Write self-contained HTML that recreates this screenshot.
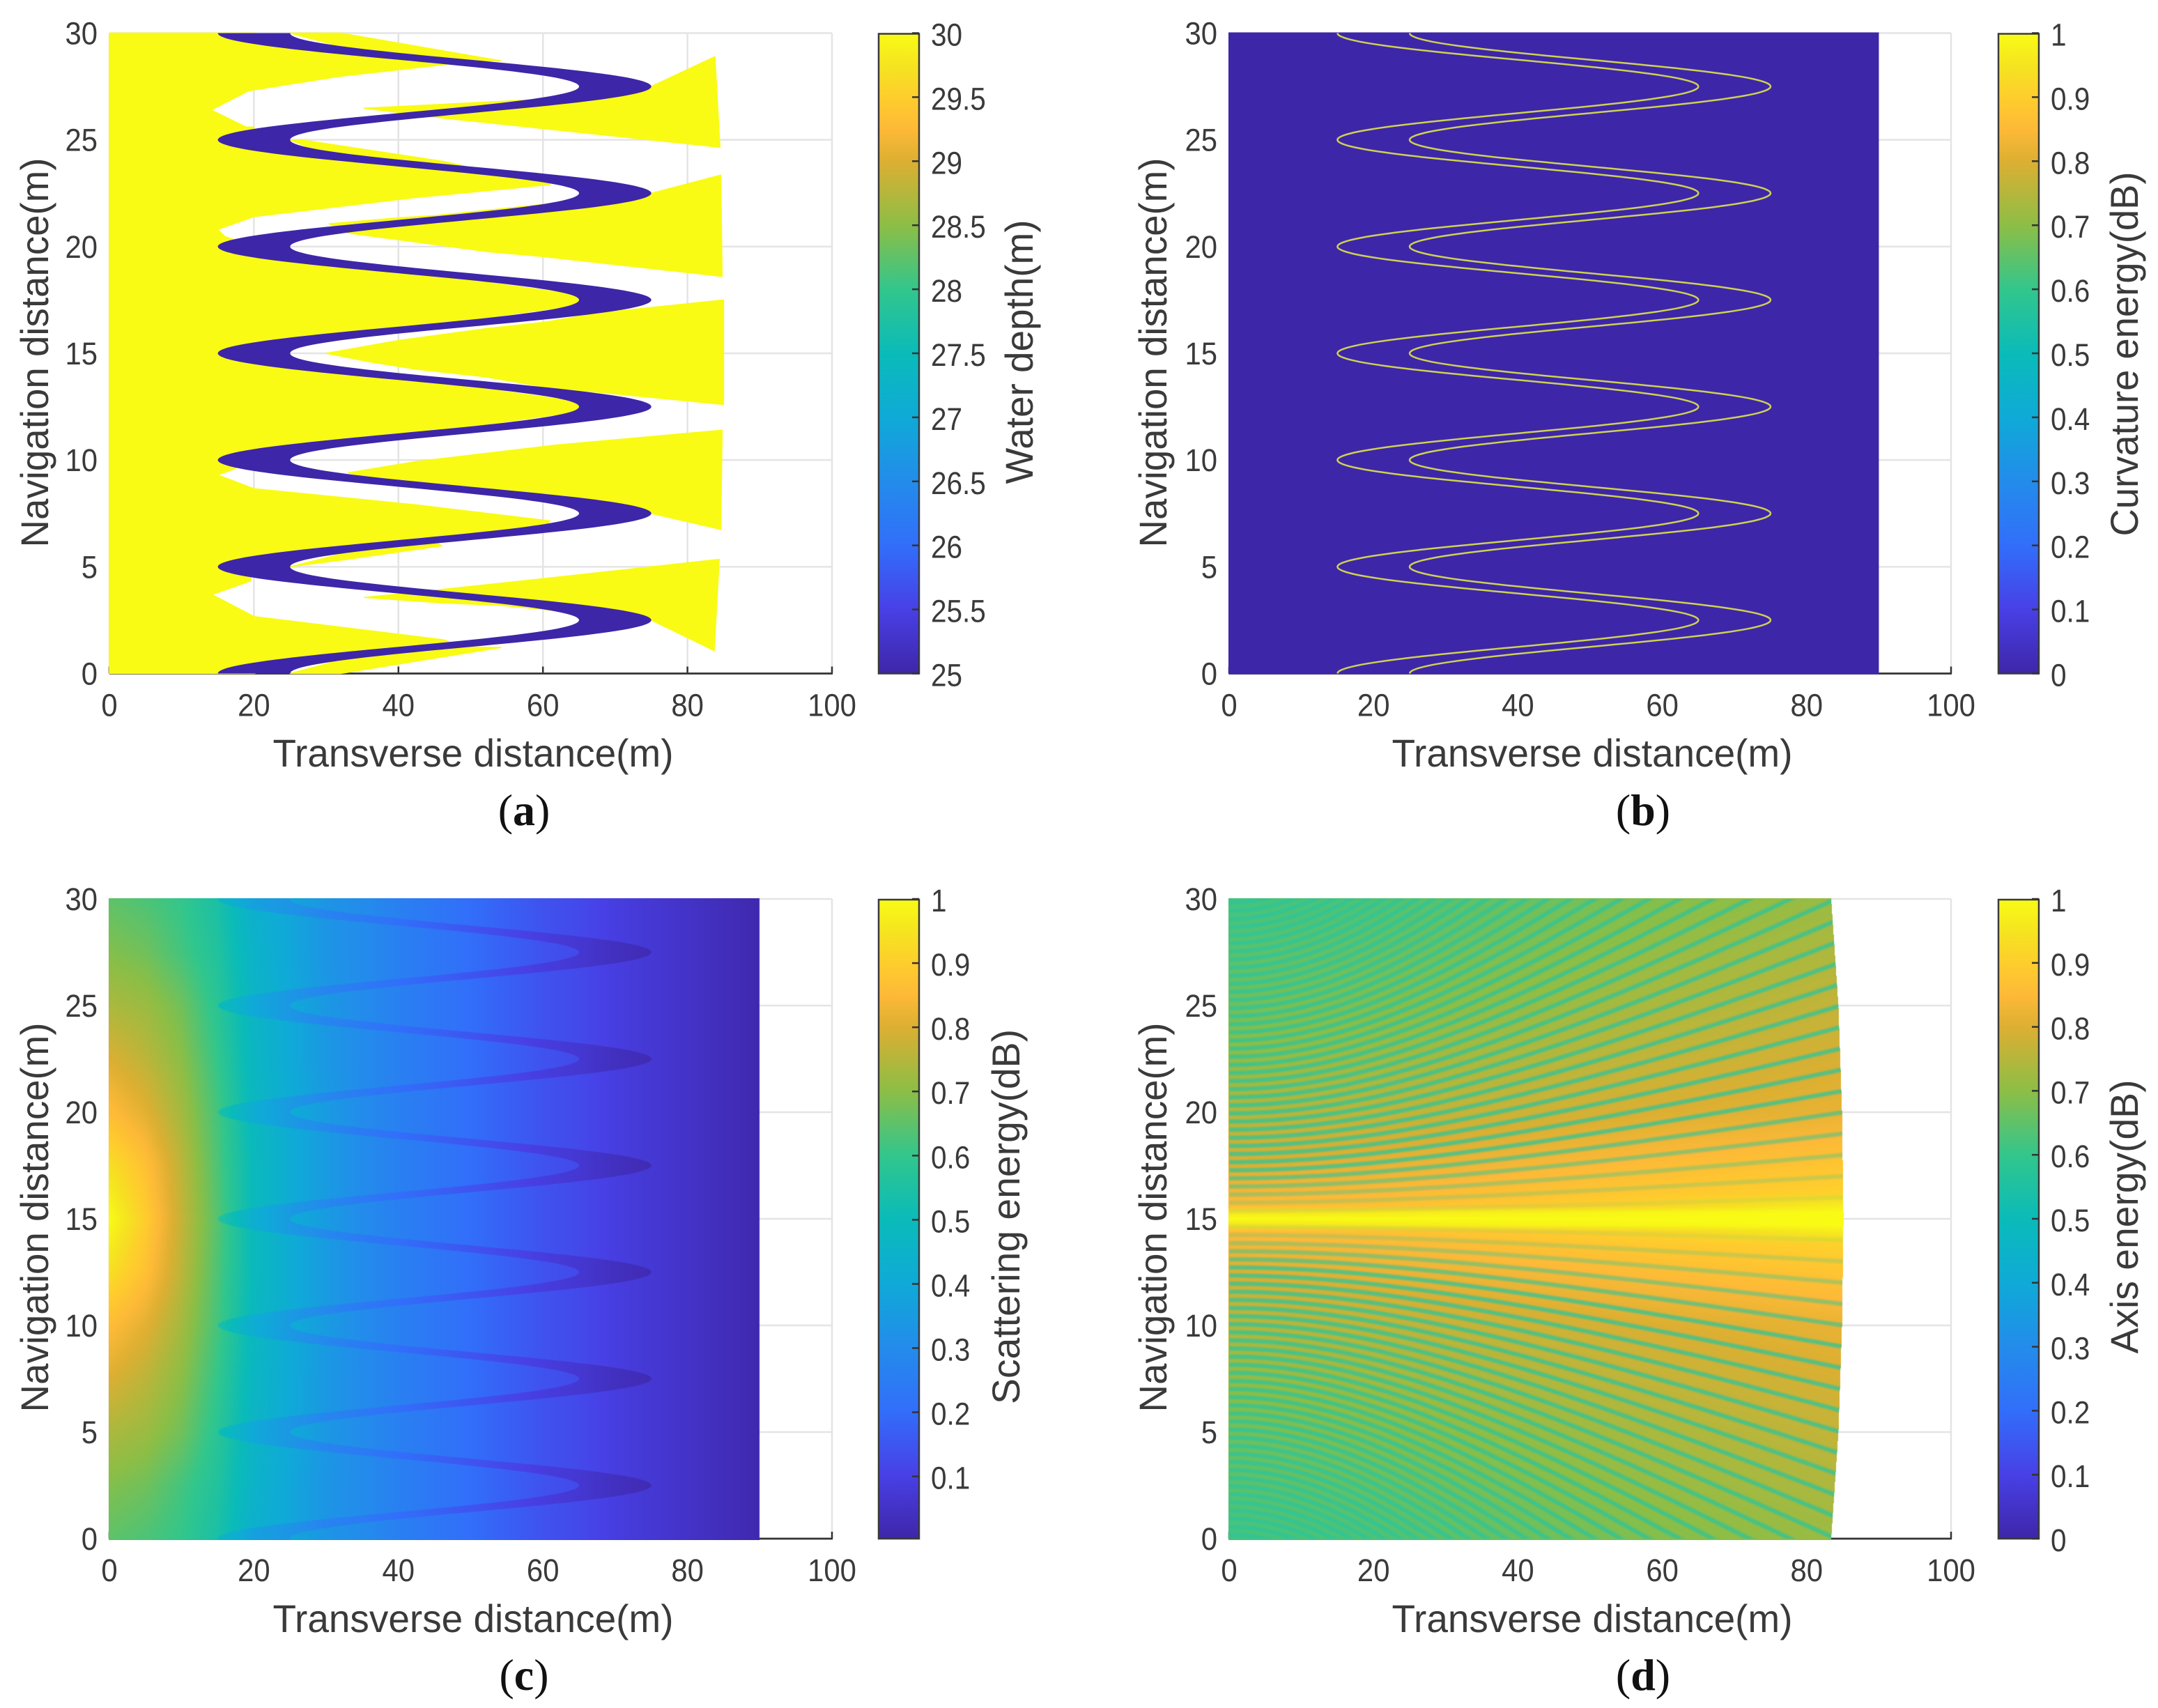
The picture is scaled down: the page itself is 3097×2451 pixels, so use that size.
<!DOCTYPE html>
<html lang="en">
<head>
<meta charset="utf-8">
<title>Water depth and energy maps</title>
<style>
html,body{margin:0;padding:0;background:#fff;}
#page{position:relative;width:3097px;height:2451px;overflow:hidden;background:#fff;}
#page svg,#page canvas{position:absolute;left:0;top:0;}
text{font-family:"Liberation Sans",sans-serif;fill:#3a3a3a;}
.sub{font-family:"Liberation Serif",serif;font-size:64px;fill:#111;text-anchor:middle;}
.sub tspan{font-weight:bold;font-family:"Liberation Serif",serif;}
.title{font-size:56px;text-anchor:middle;}
</style>
</head>
<body>
<div id="page">
<svg id="under" width="3097" height="2451"></svg>
<canvas id="field-c"></canvas>
<canvas id="field-d"></canvas>
<svg id="over" width="3097" height="2451">
  <defs id="defs"></defs>
  <g id="marks"></g>
  <g id="ticks"></g>

  <text class="title" x="0" y="0" transform="translate(679,1100)" textLength="575" lengthAdjust="spacingAndGlyphs">Transverse distance(m)</text>
  <text class="title" x="0" y="0" transform="translate(2285,1100)" textLength="575" lengthAdjust="spacingAndGlyphs">Transverse distance(m)</text>
  <text class="title" x="0" y="0" transform="translate(679,2342)" textLength="575" lengthAdjust="spacingAndGlyphs">Transverse distance(m)</text>
  <text class="title" x="0" y="0" transform="translate(2285,2342)" textLength="575" lengthAdjust="spacingAndGlyphs">Transverse distance(m)</text>

  <text class="title" x="0" y="0" transform="translate(69,506) rotate(-90)" textLength="559" lengthAdjust="spacingAndGlyphs">Navigation distance(m)</text>
  <text class="title" x="0" y="0" transform="translate(1674,506) rotate(-90)" textLength="559" lengthAdjust="spacingAndGlyphs">Navigation distance(m)</text>
  <text class="title" x="0" y="0" transform="translate(69,1747) rotate(-90)" textLength="559" lengthAdjust="spacingAndGlyphs">Navigation distance(m)</text>
  <text class="title" x="0" y="0" transform="translate(1674,1747) rotate(-90)" textLength="559" lengthAdjust="spacingAndGlyphs">Navigation distance(m)</text>

  <text class="title" x="0" y="0" transform="translate(1482,505) rotate(-90)" textLength="379" lengthAdjust="spacingAndGlyphs">Water depth(m)</text>
  <text class="title" x="0" y="0" transform="translate(3068,508) rotate(-90)" textLength="523" lengthAdjust="spacingAndGlyphs">Curvature energy(dB)</text>
  <text class="title" x="0" y="0" transform="translate(1463,1746) rotate(-90)" textLength="538" lengthAdjust="spacingAndGlyphs">Scattering energy(dB)</text>
  <text class="title" x="0" y="0" transform="translate(3068,1746) rotate(-90)" textLength="393" lengthAdjust="spacingAndGlyphs">Axis energy(dB)</text>

  <text class="sub" x="752" y="1184">(<tspan>a</tspan>)</text>
  <text class="sub" x="2358" y="1184">(<tspan>b</tspan>)</text>
  <text class="sub" x="752" y="2425">(<tspan>c</tspan>)</text>
  <text class="sub" x="2358" y="2425">(<tspan>d</tspan>)</text>
</svg>
</div>

<script>
/* ---------- axis tick values ---------- */
const xTickValues = [0, 20, 40, 60, 80, 100];
const yTickValues = [0, 5, 10, 15, 20, 25, 30];
const depthBarTicks = [25, 25.5, 26, 26.5, 27, 27.5, 28, 28.5, 29, 29.5, 30];
const curvatureBarTicks = [0, 0.1, 0.2, 0.3, 0.4, 0.5, 0.6, 0.7, 0.8, 0.9, 1];
const scatterBarTicks = [0.1, 0.2, 0.3, 0.4, 0.5, 0.6, 0.7, 0.8, 0.9, 1];
const axisBarTicks = [0, 0.1, 0.2, 0.3, 0.4, 0.5, 0.6, 0.7, 0.8, 0.9, 1];

/* ---------- colour map ---------- */
const parulaValues = [0, 0.1, 0.2, 0.3, 0.4, 0.5, 0.6, 0.7, 0.8, 0.85, 0.9, 0.95, 1];
const parulaReds   = [62, 72, 50, 35, 15, 10, 50, 140, 220, 253, 254, 245, 249];
const parulaGreens = [38, 64, 110, 140, 170, 187, 198, 190, 175, 185, 205, 228, 251];
const parulaBlues  = [168, 230, 250, 235, 215, 185, 140, 70, 50, 55, 45, 32, 21];

/* ---------- channel centre-line turning points (m) ---------- */
const channelY = [0, 2.5, 5, 7.5, 10, 12.5, 15, 17.5, 20, 22.5, 25, 27.5, 30];
const channelLeftX  = [15, 65, 15, 65, 15, 65, 15, 65, 15, 65, 15, 65, 15];
const channelRightX = [25, 75, 25, 75, 25, 75, 25, 75, 25, 75, 25, 75, 25];

/* ---------- panel (a): shoal outlines, [transverse, navigation] in metres ---------- */
const shoalLeftMass = [[0,30],[20,30],[33,29.15],[48,28.6],[46.6,28.53],[31.8,27.97],[19.3,27.3],[14.1,26.4],[18.9,25.6],[20,25.6],[20,25],[30,24.3],[45,23.75],[60,23.2],[61,22.9],[42.5,22.3],[20,21.4],[15,20.8],[16,20.47],[20,20],[40,18.9],[70,17.5],[40,16.1],[20,15],[40,13.9],[70,12.5],[40,11.1],[20,10],[17,9.55],[15,9.3],[20,8.66],[42.5,7.9],[61,7.15],[60,6.8],[40,6.1],[20,5],[19.5,4.33],[14.2,3.7],[20,2.67],[46.3,1.58],[48,1.35],[33,0.85],[20,0],[0,0]];
const shoalTopWedge = [[25,30],[32,30],[54.2,28.7],[45,28.75],[35,29.1]];
const shoalBottomWedge = [[25,0],[32,0],[54.2,1.22],[45,1.25],[35,0.9]];
const shoalSliver25 = [[25,25],[26.6,25],[46.6,23.97],[50,23.7],[45,23.75],[30,24.3]];
const shoalSliver5 = [[25,5],[33,5.35],[46,5.98],[45,6.2],[35,5.85]];
const shoalRight1 = [[35.2,26.48],[54,26.8],[60,26.9],[75,27.5],[83.8,28.9],[84.5,24.65],[52.4,25.8],[46.6,26]];
const shoalRight2 = [[30.4,21.07],[40,21.35],[45,21.45],[75,22.5],[84.6,23.35],[84.8,18.6],[60,19.53],[52.4,19.76],[33,20.63]];
const shoalRight3 = [[30,15],[40,15.6],[52,16.15],[60,16.45],[68,16.9],[85,17.5],[85,12.6],[60,13.43],[52,13.9],[42.5,14.25],[36,14.6]];
const shoalRight4 = [[33,9.4],[42.5,9.93],[61.7,10.7],[84.8,11.4],[84.6,6.75],[75,7.5],[55,8.4],[40,8.9]];
const shoalRight5 = [[35.3,3.56],[46.3,3.3],[54,3.2],[75,2.5],[83.7,1.07],[84.4,5.35],[56.9,4.33],[46.3,3.95]];

/* ---------- panel (c): scattering energy grid ---------- */
const scatterX = [0,5,10,15,20,25,30,35,40,45,50,55,60,65,70,75,80,85,90];
const scatterY = [0,2.5,5,7.5,10,12.5,15,17.5,20,22.5,25,27.5,30];
const scatterRow0  = [.65,.63,.60,.54,.43,.39,.33,.30,.26,.23,.20,.17,.14,.12,.09,.07,.05,.03,.01];
const scatterRow1  = [.69,.67,.62,.56,.45,.39,.33,.30,.26,.23,.20,.17,.14,.12,.09,.07,.05,.03,.01];
const scatterRow2  = [.74,.72,.67,.58,.46,.40,.34,.30,.26,.23,.20,.17,.14,.12,.09,.07,.05,.03,.01];
const scatterRow3  = [.80,.76,.70,.60,.47,.40,.34,.30,.26,.23,.20,.17,.14,.12,.09,.07,.05,.03,.01];
const scatterRow4  = [.86,.81,.73,.62,.48,.41,.35,.30,.26,.23,.20,.17,.14,.12,.09,.07,.05,.03,.01];
const scatterRow5  = [.94,.87,.76,.63,.49,.41,.35,.30,.26,.23,.20,.17,.14,.12,.09,.07,.05,.03,.01];
const scatterRow6  = [1.0,.90,.77,.64,.49,.41,.35,.30,.26,.23,.20,.17,.14,.12,.09,.07,.05,.03,.01];
const scatterRow7  = [.94,.87,.76,.63,.49,.41,.35,.30,.26,.23,.20,.17,.14,.12,.09,.07,.05,.03,.01];
const scatterRow8  = [.86,.81,.73,.62,.48,.41,.35,.30,.26,.23,.20,.17,.14,.12,.09,.07,.05,.03,.01];
const scatterRow9  = [.80,.76,.70,.60,.47,.40,.34,.30,.26,.23,.20,.17,.14,.12,.09,.07,.05,.03,.01];
const scatterRow10 = [.74,.72,.67,.58,.46,.40,.34,.30,.26,.23,.20,.17,.14,.12,.09,.07,.05,.03,.01];
const scatterRow11 = [.69,.67,.62,.56,.45,.39,.33,.30,.26,.23,.20,.17,.14,.12,.09,.07,.05,.03,.01];
const scatterRow12 = [.65,.63,.60,.54,.43,.39,.33,.30,.26,.23,.20,.17,.14,.12,.09,.07,.05,.03,.01];

/* ---------- panel (d): axis energy envelope grid and interference fringes ---------- */
const axisX = [0, 20, 40, 60, 85];
const axisY = [0, 5, 10, 12.5, 13.8, 14.4, 14.7, 15, 15.3, 15.6, 16.2, 17.5, 20, 25, 30];
const axisRow0  = [.62,.63,.66,.69,.72];
const axisRow1  = [.67,.69,.71,.74,.77];
const axisRow2  = [.75,.76,.78,.80,.82];
const axisRow3  = [.80,.82,.84,.86,.88];
const axisRow4  = [.84,.85,.87,.89,.91];
const axisRow5  = [.86,.87,.89,.92,.97];
const axisRow6  = [.95,.96,.98,.99,1.0];
const axisRow7  = [1.0,1.0,1.0,1.0,1.0];
const axisRow8  = [.95,.96,.98,.99,1.0];
const axisRow9  = [.86,.87,.89,.92,.97];
const axisRow10 = [.84,.85,.87,.89,.91];
const axisRow11 = [.80,.82,.84,.86,.88];
const axisRow12 = [.75,.76,.78,.80,.82];
const axisRow13 = [.67,.69,.71,.74,.77];
const axisRow14 = [.62,.63,.66,.69,.72];
const fieldEdgeY = [0, 5, 10, 15, 20, 25, 30];
const fieldEdgeX = [83.4, 84.4, 84.9, 85.1, 84.9, 84.4, 83.4];
const fringeOffsets = [.38,.76,1.14,1.52,1.9,2.28,2.66,3.04,3.42,3.8,4.18,4.56,4.94,5.32,5.7,6.08,6.46,6.84,7.22,7.6,7.98,8.36,8.74,9.12,9.5,9.88,10.26,10.64,11.02,11.4,11.78,12.16,12.54,12.92,13.3,13.68,14.06,14.44,14.82];
const fringeSourceRange = [35];

/* ---------- layout ---------- */
const frameA = {left:157, right:1194, top:47.5, bottom:966.5};
const frameB = {left:1764, right:2800, top:47.5, bottom:966.5};
const frameC = {left:157, right:1194, top:1290, bottom:2208};
const frameD = {left:1764, right:2800, top:1290, bottom:2208};
const NS = 'http://www.w3.org/2000/svg';
const under = document.getElementById('under');
const marks = document.getElementById('marks');
const tickLayer = document.getElementById('ticks');
const defs = document.getElementById('defs');

function xScale(f, v){ return f.left + v / 100 * (f.right - f.left); }
function yScale(f, v){ return f.bottom - v / 30 * (f.bottom - f.top); }
function shape(tag, attrs){
  const el = document.createElementNS(NS, tag);
  for (const k in attrs) el.setAttribute(k, attrs[k]);
  return el;
}
function parula(v){
  const t = Math.max(0, Math.min(1, v));
  let i = 0;
  while (i < parulaValues.length - 2 && t > parulaValues[i + 1]) i++;
  const u = (t - parulaValues[i]) / (parulaValues[i + 1] - parulaValues[i]);
  return [
    parulaReds[i] + (parulaReds[i + 1] - parulaReds[i]) * u,
    parulaGreens[i] + (parulaGreens[i + 1] - parulaGreens[i]) * u,
    parulaBlues[i] + (parulaBlues[i + 1] - parulaBlues[i]) * u
  ];
}
function cssColor(c){ return 'rgb(' + c.map(Math.round).join(',') + ')'; }
const LOW = cssColor(parula(0));
const HIGH = cssColor(parula(1));

/* half-cosine blend between the channel turning points */
function channelAt(edge, y){
  let i = 0;
  while (i < channelY.length - 2 && y > channelY[i + 1]) i++;
  const t = Math.max(0, Math.min(1, (y - channelY[i]) / (channelY[i + 1] - channelY[i])));
  return edge[i] + (edge[i + 1] - edge[i]) * (1 - Math.cos(Math.PI * t)) / 2;
}
function channelLine(f, edge, reverse){
  const pts = [];
  const last = channelY[channelY.length - 1];
  for (let k = 0; k <= 600; k++){
    const y = channelY[0] + (last - channelY[0]) * k / 600;
    pts.push(xScale(f, channelAt(edge, y)).toFixed(1) + ' ' + yScale(f, y).toFixed(1));
  }
  if (reverse) pts.reverse();
  return pts;
}

/* ---------- axes ---------- */
function drawAxes(f){
  xTickValues.forEach(function(v){
    const line = shape('line', {x1:xScale(f,v), x2:xScale(f,v), y1:f.top, y2:f.bottom, stroke:'#e4e4e4', 'stroke-width':2.5});
    
    
    under.appendChild(line);
    const tick = shape('line', {x1:xScale(f,v), x2:xScale(f,v), y1:f.bottom, y2:f.bottom - 10, stroke:'#333', 'stroke-width':2.5});
    
    
    under.appendChild(tick);
    const label = shape('text', {transform:'translate(' + xScale(f,v) + ',' + (f.bottom + 61) + ') scale(.93,1)', 'text-anchor':'middle', 'font-size':45});
    
    
    label.textContent = String(v);
    tickLayer.appendChild(label);
  });
  yTickValues.forEach(function(v){
    const line = shape('line', {x1:f.left, x2:f.right, y1:yScale(f,v), y2:yScale(f,v), stroke:'#e4e4e4', 'stroke-width':2.5});
    
    
    under.appendChild(line);
    const label = shape('text', {transform:'translate(' + (f.left - 17) + ',' + (yScale(f,v) + 16) + ') scale(.93,1)', 'text-anchor':'end', 'font-size':45});
    
    
    label.textContent = String(v);
    tickLayer.appendChild(label);
  });
  const base = shape('line', {x1:f.left, x2:f.right + 1, y1:f.bottom, y2:f.bottom, stroke:'#333', 'stroke-width':2.8});
  
  
  under.appendChild(base);
}

/* ---------- colour bars ---------- */
const barGradient = shape('linearGradient', {id:'parula-gradient', x1:0, y1:1, x2:0, y2:0});
parulaValues.forEach(function(v){
  barGradient.appendChild(shape('stop', {offset:v, 'stop-color':cssColor(parula(v))}));
});
defs.appendChild(barGradient);

function drawColorbar(f, left, right, lo, hi, ticks){
  const bar = shape('rect', {x:left, y:f.top + 1, width:right - left, height:f.bottom - f.top - 1, fill:'url(#parula-gradient)', stroke:'#3a3a3a', 'stroke-width':2.5});
  
  
  marks.appendChild(bar);
  ticks.forEach(function(v){
    const y = f.bottom - (v - lo) / (hi - lo) * (f.bottom - f.top);
    const tick = shape('line', {x1:right, x2:right - 10, y1:y, y2:y, stroke:'#333', 'stroke-width':2.5});
    
    
    tickLayer.appendChild(tick);
    const label = shape('text', {transform:'translate(' + (right + 17) + ',' + (y + 18) + ') scale(.9,1)', 'font-size':45});
    
    
    label.textContent = String(v);
    tickLayer.appendChild(label);
  });
}

/* ---------- heat fields ---------- */
function locate(arr, v){
  let i = 0;
  while (i < arr.length - 2 && v > arr[i + 1]) i++;
  const t = Math.max(0, Math.min(1, (v - arr[i]) / (arr[i + 1] - arr[i])));
  return [i, t];
}
function edgeAt(y){
  const p = locate(fieldEdgeY, y);
  return fieldEdgeX[p[0]] + (fieldEdgeX[p[0] + 1] - fieldEdgeX[p[0]]) * p[1];
}
const colorTable = [];
for (let i = 0; i <= 1023; i++) colorTable.push(parula(i / 1023));

function drawField(id, f, xs, ys, rows, xMax, limit, withChannel){
  const cv = document.getElementById(id);
  const left = Math.floor(f.left) - 1, top = Math.floor(f.top) - 1;
  const width = Math.ceil(xScale(f, xMax) - left) + 2, height = Math.ceil(f.bottom - top) + 2;
  cv.width = width; cv.height = height;
  cv.style.left = left + 'px'; cv.style.top = top + 'px';
  const ctx = cv.getContext('2d');
  const img = ctx.createImageData(width, height);
  const xLook = [];
  for (let px = 0; px < width; px++) xLook.push(locate(xs, (left + px + .5 - f.left) / (f.right - f.left) * 100));
  const subs = [.17, .5, .83];
  for (let py = 0; py < height; py++){
    const yv = Math.max(0, Math.min(30, (f.bottom - (top + py + .5)) / (f.bottom - f.top) * 30));
    const yl = locate(ys, yv);
    const r0 = rows[yl[0]], r1 = rows[yl[0] + 1];
    const maxX = limit ? edgeAt(yv) : xMax;
    let bands = null;
    if (withChannel){
      bands = subs.map(function(s){
        const ys2 = Math.max(0, Math.min(30, (f.bottom - (top + py + s)) / (f.bottom - f.top) * 30));
        return [channelAt(channelLeftX, ys2), channelAt(channelRightX, ys2)];
      });
    }
    for (let px = 0; px < width; px++){
      const xv = (left + px + .5 - f.left) / (f.right - f.left) * 100;
      const o = (py * width + px) * 4;
      if (xv > maxX) { img.data[o + 3] = 0; continue; }
      const xl = xLook[px];
      const a = r0[xl[0]] + (r0[xl[0] + 1] - r0[xl[0]]) * xl[1];
      const b = r1[xl[0]] + (r1[xl[0] + 1] - r1[xl[0]]) * xl[1];
      let v = a + (b - a) * yl[1];
      if (bands){
        let cover = 0;
        for (let k = 0; k < 3; k++){ if (xv >= bands[k][0] && xv <= bands[k][1]) cover++; }
        if (cover) v = v + ((v * .97 - .05) - v) * cover / 3;
      }
      const c = colorTable[Math.max(0, Math.min(1023, Math.round(v * 1023)))];
      img.data[o] = c[0]; img.data[o + 1] = c[1]; img.data[o + 2] = c[2]; img.data[o + 3] = 255;
    }
  }
  ctx.putImageData(img, 0, 0);
}

/* ---------- panel (a) ---------- */
function polyPoints(f, list){
  return list.map(function(p){ return xScale(f, p[0]).toFixed(1) + ',' + yScale(f, p[1]).toFixed(1); }).join(' ');
}
function drawShoal(f, list){
  const poly = shape('polygon', {points:polyPoints(f, list), fill:HIGH, stroke:HIGH, 'stroke-width':1.5, 'stroke-linejoin':'round'});
  
  
  marks.appendChild(poly);
}
[shoalLeftMass, shoalTopWedge, shoalBottomWedge, shoalSliver25, shoalSliver5, shoalRight1, shoalRight2, shoalRight3, shoalRight4, shoalRight5].forEach(function(list){
  drawShoal(frameA, list);
});
const channelBand = shape('path', {d:'M' + channelLine(frameA, channelLeftX, false).join('L') + 'L' + channelLine(frameA, channelRightX, true).join('L') + 'Z', fill:LOW});


marks.appendChild(channelBand);

/* ---------- panel (b) ---------- */
const curvatureBase = shape('rect', {x:xScale(frameB,0) - 1, y:frameB.top - 1, width:xScale(frameB,90) - xScale(frameB,0) + 1, height:frameB.bottom - frameB.top + 2, fill:LOW});


marks.appendChild(curvatureBase);
[channelLeftX, channelRightX].forEach(function(edge){
  const line = shape('path', {d:'M' + channelLine(frameB, edge, false).join('L'), fill:'none', stroke:'#cdd152', 'stroke-width':2.5});
  
  
  marks.appendChild(line);
});

/* ---------- panels (c) and (d) fields ---------- */
drawField('field-c', frameC, scatterX, scatterY,
  [scatterRow0,scatterRow1,scatterRow2,scatterRow3,scatterRow4,scatterRow5,scatterRow6,scatterRow7,scatterRow8,scatterRow9,scatterRow10,scatterRow11,scatterRow12],
  90, false, true);
drawField('field-d', frameD, axisX, axisY,
  [axisRow0,axisRow1,axisRow2,axisRow3,axisRow4,axisRow5,axisRow6,axisRow7,axisRow8,axisRow9,axisRow10,axisRow11,axisRow12,axisRow13,axisRow14],
  85.2, true, false);

/* interference fringes of panel (d) */
const fringeClip = shape('clipPath', {id:'axis-field-clip'});
const clipPts = [[0,0]];
fieldEdgeY.forEach(function(y, i){ clipPts.push([fieldEdgeX[i], y]); });
clipPts.push([0,30]);
fringeClip.appendChild(shape('polygon', {points:polyPoints(frameD, clipPts)}));
defs.appendChild(fringeClip);
const fringeGroup = shape('g', {'clip-path':'url(#axis-field-clip)'});


marks.appendChild(fringeGroup);
const fringeSoft = shape('g', {style:'filter:blur(1px)'});


fringeGroup.appendChild(fringeSoft);
fringeOffsets.forEach(function(a, i){
  const semi = fringeSourceRange[0] * fringeSourceRange[0] - a * a;
  [1, -1].forEach(function(side){
    const pts = [];
    for (let x = 0; x <= 86; x += 1){
      const off = a * Math.sqrt(1 + x * x / semi);
      pts.push(xScale(frameD, x).toFixed(1) + ' ' + yScale(frameD, 15 + side * off).toFixed(1));
      if (off > 15.5) break;
    }
    const fringe = shape('path', {d:'M' + pts.join('L'), fill:'none', stroke:'rgb(44,196,155)', 'stroke-width':6, opacity:Math.min(.75, .1 + .13 * i)});
    
    
    fringeSoft.appendChild(fringe);
  });
});

/* ---------- axes and colour bars ---------- */
[frameA, frameB, frameC, frameD].forEach(drawAxes);
drawColorbar(frameA, 1261, 1319, 25, 30, depthBarTicks);
drawColorbar(frameB, 2868, 2926, 0, 1, curvatureBarTicks);
drawColorbar(frameC, 1261, 1319, 0.003, 1, scatterBarTicks);
drawColorbar(frameD, 2868, 2926, 0, 1, axisBarTicks);
</script>
</body>
</html>
